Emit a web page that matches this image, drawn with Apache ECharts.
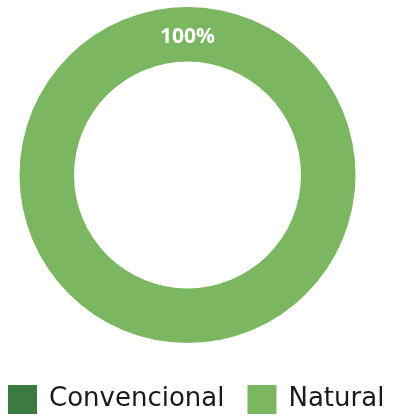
<!DOCTYPE html>
<html><head><meta charset="utf-8">
<script src="https://cdn.jsdelivr.net/npm/echarts@6/dist/echarts.min.js"></script>
<style>html,body{margin:0;padding:0;background:#fff}#c{width:398px;height:416px}</style>
</head><body><div id="c"></div>
<script>
const categories = ['Convencional', 'Natural'];
const values = [0, 100];
const colors = ['#3b7a41', '#7bb661'];

const chart = echarts.init(document.getElementById('c'), null, {renderer: 'canvas'});
chart.setOption({
  animation: false,
  legend: {
    left: 8, top: 385, padding: 0,
    itemWidth: 29, itemHeight: 29, itemGap: 23,
    icon: 'rect',
    textStyle: {fontFamily: 'DejaVu Sans', fontSize: 26, color: '#1a1a1a', padding: [0, 0, 0, 7]},
    data: categories
  },
  series: [{
    type: 'pie',
    center: [187.5, 175],
    radius: [113.5, 168],
    startAngle: 270,
    clockwise: true,
    avoidLabelOverlap: false,
    emphasis: {disabled: true},
    label: {
      show: true, position: 'inside',
      formatter: p => p.value > 0 ? '{v|' + p.value + '%}' : '',
      rich: {
        v: {color: '#fff', fontWeight: 'bold', fontSize: 21, fontFamily: 'Open Sans', padding: [12, 0, 0, 0]}
      }
    },
    labelLine: {show: false},
    data: categories.map((n, i) => ({name: n, value: values[i], itemStyle: {color: colors[i]}}))
  }]
});
</script></body></html>
